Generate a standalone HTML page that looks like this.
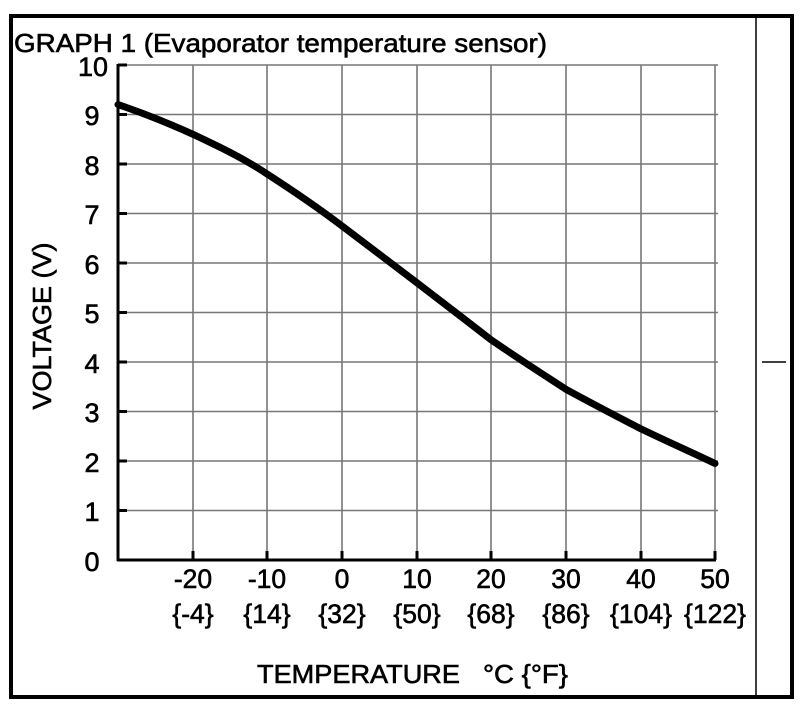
<!DOCTYPE html>
<html><head><style>body{margin:0;background:#fff}svg{display:block}</style></head><body>
<svg width="806" height="710" xmlns="http://www.w3.org/2000/svg" font-family="Liberation Sans, Arial, sans-serif" fill="#000">
<rect x="11" y="16" width="781" height="681" fill="none" stroke="#000" stroke-width="4"/>
<line x1="756" y1="16" x2="756" y2="697" stroke="#000" stroke-width="1.5"/>
<line x1="762" y1="362" x2="786" y2="362" stroke="#000" stroke-width="1.5"/>
<g stroke="#000" stroke-width="0.6">
<text x="14" y="52" font-size="26" textLength="533" lengthAdjust="spacingAndGlyphs">GRAPH 1 (Evaporator temperature sensor)</text>
</g>
<g stroke="#777" stroke-width="1.6">
<line x1="118" y1="65" x2="718" y2="65"/><line x1="118" y1="114.5" x2="718" y2="114.5"/><line x1="118" y1="164" x2="718" y2="164"/><line x1="118" y1="213.5" x2="718" y2="213.5"/><line x1="118" y1="263" x2="718" y2="263"/><line x1="118" y1="312.5" x2="718" y2="312.5"/><line x1="118" y1="362" x2="718" y2="362"/><line x1="118" y1="411.5" x2="718" y2="411.5"/><line x1="118" y1="461" x2="718" y2="461"/><line x1="118" y1="510.5" x2="718" y2="510.5"/>
<line x1="193" y1="65" x2="193" y2="560"/><line x1="267" y1="65" x2="267" y2="560"/><line x1="342" y1="65" x2="342" y2="560"/><line x1="417" y1="65" x2="417" y2="560"/><line x1="491" y1="65" x2="491" y2="560"/><line x1="566" y1="65" x2="566" y2="560"/><line x1="641" y1="65" x2="641" y2="560"/><line x1="715" y1="65" x2="715" y2="560"/>
</g>
<g stroke="#000" stroke-width="3">
<line x1="118" y1="64" x2="118" y2="561"/><line x1="117" y1="560" x2="716" y2="560"/>
<line x1="118" y1="65" x2="127" y2="65"/><line x1="118" y1="114.5" x2="127" y2="114.5"/><line x1="118" y1="164" x2="127" y2="164"/><line x1="118" y1="213.5" x2="127" y2="213.5"/><line x1="118" y1="263" x2="127" y2="263"/><line x1="118" y1="312.5" x2="127" y2="312.5"/><line x1="118" y1="362" x2="127" y2="362"/><line x1="118" y1="411.5" x2="127" y2="411.5"/><line x1="118" y1="461" x2="127" y2="461"/><line x1="118" y1="510.5" x2="127" y2="510.5"/>
<line x1="193" y1="560" x2="193" y2="551"/><line x1="267" y1="560" x2="267" y2="551"/><line x1="342" y1="560" x2="342" y2="551"/><line x1="417" y1="560" x2="417" y2="551"/><line x1="491" y1="560" x2="491" y2="551"/><line x1="566" y1="560" x2="566" y2="551"/><line x1="641" y1="560" x2="641" y2="551"/><line x1="715" y1="560" x2="715" y2="551"/>
</g>
<path d="M118,104.6 C143,113 168,123 193,134.3 C218,146 243,158 267,173.9 C292,190 317,207 342,225.9 C367,245 392,264 417,282.8 C442,302 467,321 491,339.8 C516,357 541,373 566,389.3 C591,403 616,416 641,428.9 C666,441 691,452 715,463.5" fill="none" stroke="#000" stroke-width="7" stroke-linecap="round"/>
<g font-size="27" text-anchor="middle" stroke="#000" stroke-width="0.6">
<text x="93" y="76">10</text><text x="92" y="125">9</text><text x="92" y="175">8</text><text x="92" y="224">7</text><text x="92" y="274">6</text><text x="92" y="323">5</text><text x="92" y="373">4</text><text x="92" y="422">3</text><text x="92" y="472">2</text><text x="92" y="521">1</text><text x="92" y="571">0</text>
</g>
<g font-size="26.5" text-anchor="middle" stroke="#000" stroke-width="0.6">
<text x="193" y="588">-20</text><text x="267" y="588">-10</text><text x="342" y="588">0</text><text x="417" y="588">10</text><text x="491" y="588">20</text><text x="566" y="588">30</text><text x="641" y="588">40</text><text x="715" y="588">50</text>
<text x="193" y="623">{-4}</text><text x="267" y="623">{14}</text><text x="342" y="623">{32}</text><text x="417" y="623">{50}</text><text x="491" y="623">{68}</text><text x="566" y="623">{86}</text><text x="641" y="623">{104}</text><text x="715" y="623">{122}</text>
</g>
<g font-size="26" stroke="#000" stroke-width="0.6">
<text x="257" y="683" textLength="203" lengthAdjust="spacingAndGlyphs">TEMPERATURE</text>
<text x="483" y="683" textLength="85" lengthAdjust="spacingAndGlyphs">°C {°F}</text>
<text transform="translate(51,326) rotate(-90)" text-anchor="middle" textLength="167" lengthAdjust="spacingAndGlyphs">VOLTAGE (V)</text>
</g>
</svg>
</body></html>
